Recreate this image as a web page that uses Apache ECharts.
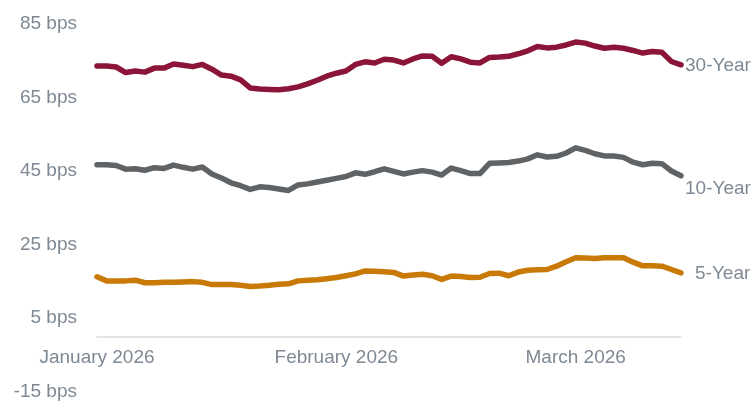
<!DOCTYPE html>
<html>
<head>
<meta charset="utf-8">
<script src="https://cdn.jsdelivr.net/npm/echarts@6/dist/echarts.min.js"></script>
<style>
  html, body { margin: 0; padding: 0; background: #fff; }
  #chart { width: 754px; height: 401px; }
</style>
</head>
<body>
<div id="chart"></div>
<script>
// trading days shown on the x axis
var dates = [
  '2026-01-02','2026-01-05','2026-01-06','2026-01-07','2026-01-08','2026-01-09',
  '2026-01-12','2026-01-13','2026-01-14','2026-01-15','2026-01-16',
  '2026-01-20','2026-01-21','2026-01-22','2026-01-23',
  '2026-01-26','2026-01-27','2026-01-28','2026-01-29','2026-01-30',
  '2026-02-02','2026-02-03','2026-02-04','2026-02-05','2026-02-06',
  '2026-02-09','2026-02-10','2026-02-11','2026-02-12','2026-02-13',
  '2026-02-17','2026-02-18','2026-02-19','2026-02-20',
  '2026-02-23','2026-02-24','2026-02-25','2026-02-26','2026-02-27',
  '2026-03-02','2026-03-03','2026-03-04','2026-03-05','2026-03-06',
  '2026-03-09','2026-03-10','2026-03-11','2026-03-12','2026-03-13',
  '2026-03-16','2026-03-17','2026-03-18','2026-03-19','2026-03-20',
  '2026-03-23','2026-03-24','2026-03-25','2026-03-26','2026-03-27',
  '2026-03-30','2026-03-31','2026-04-01'
];

// x axis labels and the points they sit on
var tickLabels = ['January 2026', 'February 2026', 'March 2026'];
var tickIndex = [0, 25, 50];

var seriesNames = ['30-Year', '10-Year', '5-Year'];
var seriesColors = ['#8a1538', '#606366', '#c97a06'];

// spreads in bps
var year30 = [73.6,73.6,73.3,71.8,72.2,71.9,73.0,73.0,74.1,73.8,
  73.4,74.0,72.7,71.1,70.8,69.8,67.6,67.3,67.2,67.1,
  67.4,67.9,68.7,69.7,70.8,71.6,72.2,74.0,74.7,74.4,
  75.4,75.2,74.4,75.5,76.3,76.2,74.3,76.1,75.5,74.6,
  74.4,75.9,76.0,76.2,76.9,77.7,78.9,78.5,78.7,79.3,
  80.1,79.8,79.0,78.4,78.7,78.4,77.8,77.1,77.5,77.3,
  74.8,73.9];
var year10 = [46.7,46.7,46.5,45.5,45.6,45.2,45.9,45.7,46.6,46.0,
  45.5,46.1,44.2,43.1,41.8,41.0,40.0,40.7,40.5,40.1,
  39.7,41.2,41.5,42.0,42.5,43.0,43.5,44.5,44.1,44.8,
  45.6,44.9,44.2,44.7,45.1,44.7,43.9,45.8,45.1,44.3,
  44.3,47.1,47.2,47.3,47.7,48.3,49.4,48.8,49.0,49.9,
  51.3,50.6,49.7,49.1,49.1,48.7,47.4,46.7,47.1,47.0,
  45.0,43.7];
var year5 = [16.2,15.1,15.1,15.1,15.3,14.6,14.6,14.7,14.7,14.8,
  14.9,14.7,14.1,14.1,14.1,13.9,13.6,13.7,13.9,14.2,
  14.3,15.1,15.3,15.4,15.7,16.0,16.5,17.0,17.8,17.7,
  17.6,17.4,16.4,16.7,16.9,16.5,15.5,16.4,16.3,16.0,
  16.1,17.1,17.2,16.5,17.5,18.0,18.1,18.2,19.1,20.3,
  21.4,21.3,21.2,21.4,21.4,21.4,20.2,19.2,19.2,19.1,
  18.2,17.3];

var textColor = '#7f8994';
var font = "'Liberation Sans', Arial, sans-serif";

function makeSeries(idx, data, offset) {
  return {
    name: seriesNames[idx],
    type: 'line',
    data: data,
    symbol: 'none',
    lineStyle: { color: seriesColors[idx], width: 5.5, cap: 'round', join: 'round' },
    itemStyle: { color: seriesColors[idx] },
    endLabel: {
      show: true,
      formatter: '{a}',
      color: textColor,
      fontSize: 19,
      fontFamily: font,
      distance: offset[0],
      offset: [0, offset[1]]
    }
  };
}

var chart = echarts.init(document.getElementById('chart'));
chart.setOption({
  animation: false,
  grid: { left: 97, right: 73, top: 24, bottom: 9.5, containLabel: false, outerBoundsMode: 'none' },
  xAxis: {
    type: 'category',
    data: dates,
    boundaryGap: false,
    // axis sits at the 0 bps level, 55px above the grid bottom
    offset: -55,
    axisLine: { onZero: false, lineStyle: { color: '#dcdcdc', width: 1.5 } },
    axisTick: { show: false },
    splitLine: { show: false },
    axisLabel: {
      color: textColor,
      fontSize: 19,
      fontFamily: font,
      margin: 12,
      interval: function (i) { return tickIndex.indexOf(i) >= 0; },
      formatter: function (v, i) {
        var k = tickIndex.indexOf(i);
        return k >= 0 ? tickLabels[k] : '';
      }
    }
  },
  yAxis: {
    type: 'value',
    min: -15,
    max: 85,
    interval: 20,
    axisLine: { show: false },
    axisTick: { show: false },
    splitLine: { show: false },
    axisLabel: {
      color: textColor,
      fontSize: 19,
      fontFamily: font,
      margin: 20,
      formatter: '{value} bps'
    }
  },
  series: [
    makeSeries(0, year30, [4, 1]),
    makeSeries(1, year10, [4, 13]),
    makeSeries(2, year5, [14, 1])
  ]
});
</script>
</body>
</html>
